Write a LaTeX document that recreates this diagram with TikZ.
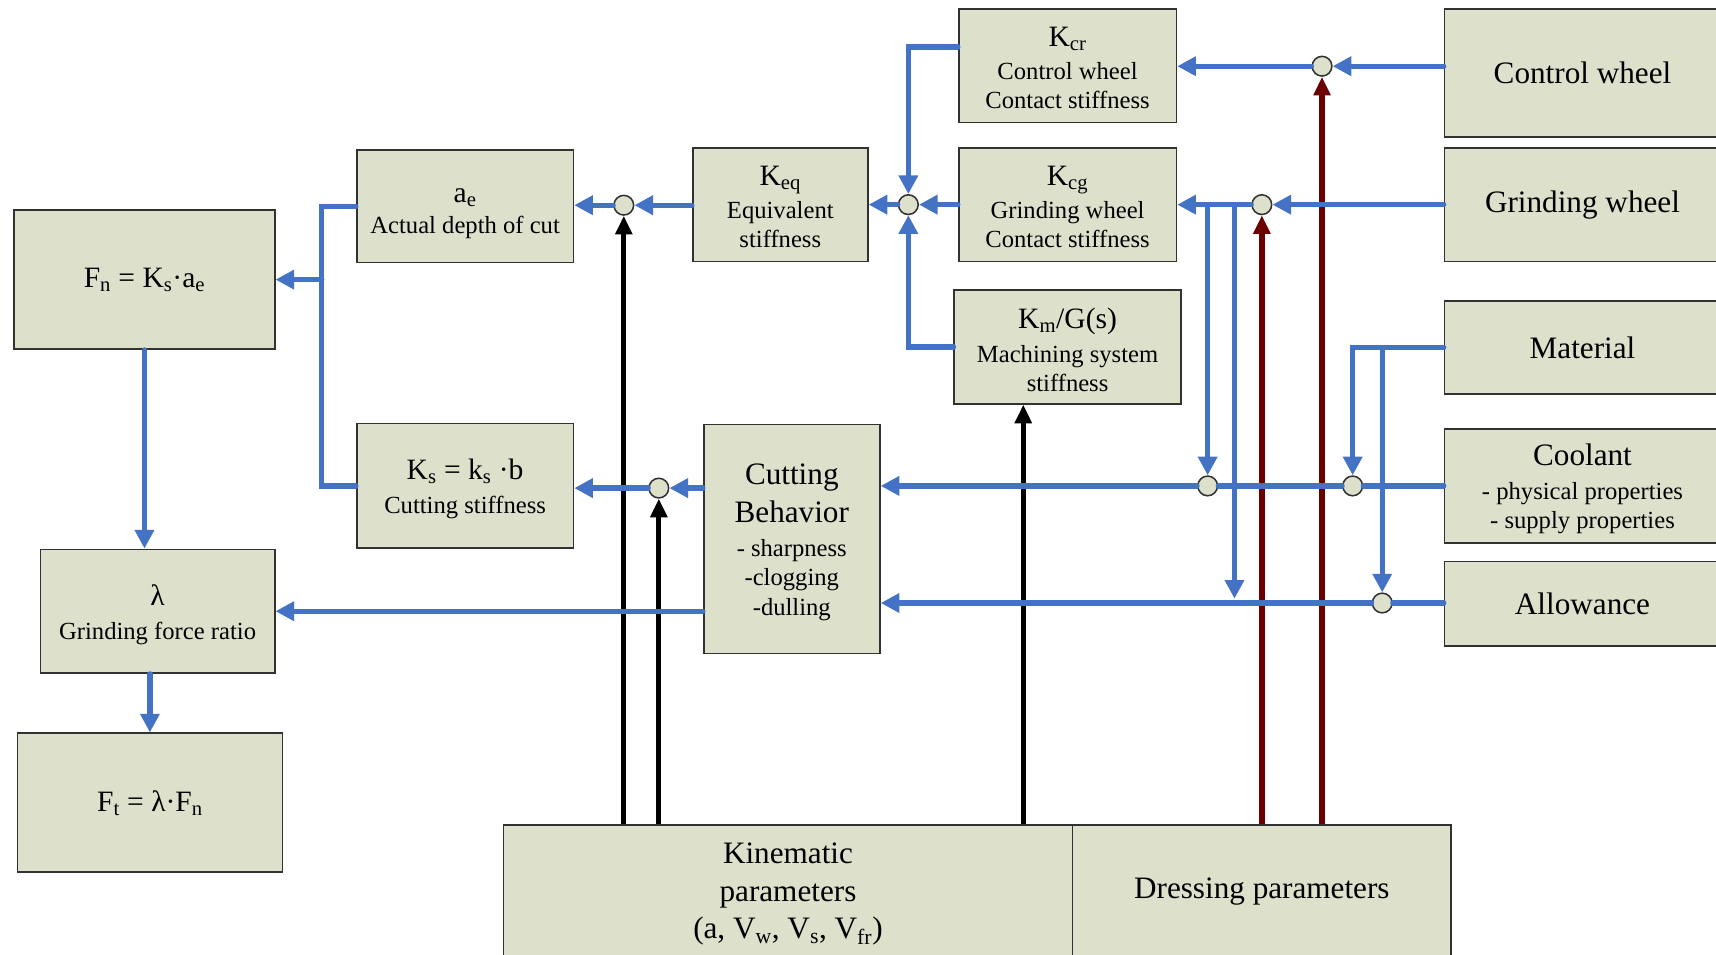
\documentclass[tikz,border=0pt]{standalone}
\usepackage{fontspec}
\setmainfont{Liberation Serif}
\usetikzlibrary{arrows.meta,calc}
\definecolor{boxfill}{RGB}{221,225,204}
\definecolor{lineblue}{RGB}{68,114,196}
\definecolor{darkred}{RGB}{108,0,0}
\definecolor{boxedge}{RGB}{50,50,50}
\newcommand{\bigf}{\fontsize{28.5}{34.5}\selectfont}
\newcommand{\midf}{\fontsize{27}{31}\selectfont}
\newcommand{\smf}{\fontsize{22.5}{27}\selectfont}
\newcommand{\tstrut}[1]{\rule{0pt}{#1}}
\begin{document}
\begin{tikzpicture}[x=1pt,y=-1pt,
  blockbox/.style={draw=boxedge, line width=1.5pt, fill=boxfill, inner sep=0pt, align=center},
  sumnode/.style={circle, draw=boxedge, line width=1.4pt, fill=boxfill, minimum size=18pt, inner sep=0pt},
  bl/.style={draw=lineblue, line width=4.8pt, line cap=round},
  bla/.style={bl, -{Triangle[length=17pt,width=17pt]}},
  blk/.style={draw=black, line width=4.5pt, -{Triangle[length=17pt,width=15pt]}},
  rd/.style={draw=darkred, line width=5.2pt, -{Triangle[length=17pt,width=15pt]}},
]
\fill[white] (0,0) rectangle (1568,872);
\useasboundingbox (0,0) rectangle (1568,872);
\clip (0,0) rectangle (1568,872);

% blocks
\node[blockbox, minimum width=238pt, minimum height=127pt, font=\midf] (fn) at (132,255.5)
  {F\textsubscript{n} = K\textsubscript{s}·a\textsubscript{e}};
\node[blockbox, minimum width=214pt, minimum height=113pt, font=\smf] (lam) at (144,558.5)
  {{\midf\tstrut{26pt}λ}\\[4pt]Grinding force ratio};
\node[blockbox, minimum width=242pt, minimum height=127pt, font=\midf] (ft) at (137,733.5)
  {F\textsubscript{t} = λ·F\textsubscript{n}};
\node[blockbox, minimum width=198pt, minimum height=103pt, font=\smf] (ae) at (425,188.5)
  {{\midf\tstrut{26pt}a\textsubscript{e}}\\[2pt]Actual depth of cut};
\node[blockbox, minimum width=198pt, minimum height=114pt, font=\smf] (ks) at (425,444)
  {{\midf\tstrut{24pt}K\textsubscript{s} = k\textsubscript{s} ·b}\\[4pt]Cutting stiffness};
\node[blockbox, minimum width=160pt, minimum height=104pt, font=\smf] (keq) at (713,187)
  {{\midf\tstrut{22pt}K\textsubscript{eq}}\\[3pt]Equivalent\\stiffness};
\node[blockbox, minimum width=161pt, minimum height=209pt, font=\smf] (cut) at (723.5,492.5)
  {{\bigf\tstrut{25pt}Cutting}\\[7pt]{\bigf Behavior}\\[4pt]- sharpness\\-clogging\\-dulling};
\node[blockbox, minimum width=199pt, minimum height=104pt, font=\smf] (kcr) at (975.5,60)
  {{\midf\tstrut{22pt}K\textsubscript{cr}}\\[3pt]Control wheel\\Contact stiffness};
\node[blockbox, minimum width=199pt, minimum height=104pt, font=\smf] (kcg) at (975.5,187)
  {{\midf\tstrut{22pt}K\textsubscript{cg}}\\[3pt]Grinding wheel\\Contact stiffness};
\node[blockbox, minimum width=207pt, minimum height=104pt, font=\smf] (km) at (975.5,317)
  {{\midf\tstrut{24pt}K\textsubscript{m}/G(s)}\\[4pt]Machining system\\stiffness};
\node[blockbox, minimum width=252pt, minimum height=117pt, font=\bigf] (cw) at (1446,66.5) {Control wheel};
\node[blockbox, minimum width=252pt, minimum height=104pt, font=\bigf] (gw) at (1446,187) {Grinding wheel};
\node[blockbox, minimum width=252pt, minimum height=85pt, font=\bigf] (mat) at (1446,317.5) {Material};
\node[blockbox, minimum width=252pt, minimum height=104pt, font=\smf] (cool) at (1446,444)
  {{\bigf\tstrut{25pt}Coolant}\\[4pt]- physical properties\\- supply properties};
\node[blockbox, minimum width=252pt, minimum height=77pt, font=\bigf] (allow) at (1446,551.5) {Allowance};
\node[blockbox, minimum width=520pt, minimum height=122pt, font=\bigf] (kin) at (720,815)
  {\tstrut{23pt}Kinematic\\parameters\\(a, V\textsubscript{w}, V\textsubscript{s}, V\textsubscript{fr})};
\node[blockbox, minimum width=346pt, minimum height=122pt, font=\bigf] (dress) at (1153,815)
  {Dressing parameters};

% summing junctions
\node[sumnode] (c1) at (570,187.5) {};
\node[sumnode] (c2) at (830,187) {};
\node[sumnode] (c3) at (1208,60.5) {};
\node[sumnode] (c4) at (1153,187) {};
\node[sumnode] (c5) at (602,446) {};
\node[sumnode] (c6) at (1103.5,444) {};
\node[sumnode] (c7) at (1236,444) {};
\node[sumnode] (c8) at (1263,551) {};

\coordinate (kmx) at (935,0);
\coordinate (bus) at (294,255.5);
\coordinate (br2) at (1128,187);
\coordinate (br2e) at (1128,547);

% vertical parameter lines
\draw[blk] (kin.north -| c1) -- (c1);
\draw[blk] (kin.north -| c5) -- (c5);
\draw[blk] (kin.north -| kmx) -- (kmx |- km.south);
\draw[rd] (dress.north -| c3) -- (c3);
\draw[rd] (dress.north -| c4) -- (c4);

% left part
\draw[bl] (ae.west) -| (bus) |- (ks.west);
\draw[bla] (bus) -- (fn.east);
\draw[bla] (fn.south) -- (fn.south |- lam.north);
\draw[bla] (ft.north |- lam.south) -- (ft.north);

% stiffness chain
\draw[bla] (keq.west |- c1) -- (c1);
\draw[bla] (c1) -- (c1 -| ae.east);
\draw[bla] (kcg.west |- c2) -- (c2);
\draw[bla] (c2) -- (c2 -| keq.east);
\draw[bla] ([yshift=17pt]kcr.west) -| (c2);
\draw[bla] (km.west) -| (c2);

% wheels
\draw[bla] (cw.west |- c3) -- (c3);
\draw[bla] (c3) -- (c3 -| kcr.east);
\draw[bla] (gw.west |- c4) -- (c4);
\draw[bla] (c4) -- (c4 -| kcg.east);
\draw[bla] (c6 |- c4) -- (c6);
\draw[bla] (br2) -- (br2e);

% material
\draw[bla] (mat.west) -| (c7);
\draw[bla] (c8 |- mat.west) -- (c8);

% coolant and allowance
\draw[bl] (cool.west |- c7) -- (c7);
\draw[bl] (c7) -- (c6);
\draw[bla] (c6) -- (c6 -| cut.east);
\draw[bl] (allow.west |- c8) -- (c8);
\draw[bla] (c8) -- (c8 -| cut.east);

% cutting behaviour outputs
\draw[bla] (cut.west |- lam.east) -- (lam.east);
\draw[bla] (cut.west |- c5) -- (c5);
\draw[bla] (c5) -- (c5 -| ks.east);
\end{tikzpicture}
\end{document}
